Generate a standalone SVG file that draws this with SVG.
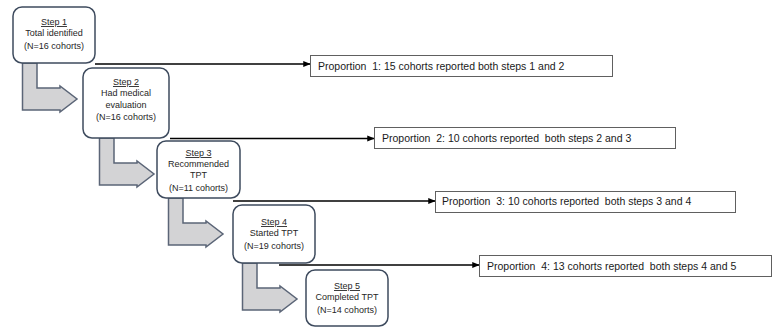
<svg xmlns="http://www.w3.org/2000/svg" xmlns:xlink="http://www.w3.org/1999/xlink" width="773" height="329" viewBox="0 0 773 329">
<style>
.step{fill:#ffffff;stroke:#3e4b5e;stroke-width:1.5}
.bent{fill:#d3d3d5;stroke:#5b6577;stroke-width:1.5;stroke-linejoin:miter}
.st{font-family:"Liberation Sans",Arial,sans-serif;font-size:9px;fill:#262626;text-anchor:middle}
.u{text-decoration:underline}
.prop{fill:#ffffff;stroke:#606060;stroke-width:1}
.pt{font-family:"Liberation Sans",Arial,sans-serif;font-size:10.5px;fill:#1a1a1a;white-space:pre}
.conn{stroke:#000;stroke-width:1.5;fill:none;marker-end:url(#ah)}
</style>
<defs>
<marker id="ah" viewBox="0 0 10 10" refX="9" refY="5" markerWidth="5" markerHeight="5" orient="auto" markerUnits="strokeWidth">
<path d="M0,1 L10,5 L0,9 Z" fill="#000"/>
</marker>
<path id="bentArrow" class="bent" d="M9.5,0 H24 V25 H47 V23 L64,36 L47,49 V47 H9.5 Z"/>
</defs>
<rect width="773" height="329" fill="#ffffff"/>

<g id="arrows">
<use xlink:href="#bentArrow" transform="translate(13,63)"/>
<use xlink:href="#bentArrow" transform="translate(90,138)"/>
<use xlink:href="#bentArrow" transform="translate(159,198)"/>
<use xlink:href="#bentArrow" transform="translate(233,263)"/>
</g>

<g id="step1">
<rect class="step" x="13" y="7" width="82" height="56" rx="9"/>
<text class="st u" x="54" y="25">Step 1</text>
<text class="st" x="54" y="36">Total identified</text>
<text class="st" x="54" y="49">(N=16 cohorts)</text>
</g>
<g id="step2">
<rect class="step" x="83" y="68" width="86" height="70" rx="9"/>
<text class="st u" x="126" y="85">Step 2</text>
<text class="st" x="126" y="96">Had medical</text>
<text class="st" x="126" y="108">evaluation</text>
<text class="st" x="126" y="120">(N=16 cohorts)</text>
</g>
<g id="step3">
<rect class="step" x="157" y="141" width="83" height="57" rx="9"/>
<text class="st u" x="198.5" y="156">Step 3</text>
<text class="st" x="198.5" y="167">Recommended</text>
<text class="st" x="198.5" y="178">TPT</text>
<text class="st" x="198.5" y="191">(N=11 cohorts)</text>
</g>
<g id="step4">
<rect class="step" x="233" y="205" width="82" height="58" rx="9"/>
<text class="st u" x="274" y="225">Step 4</text>
<text class="st" x="274" y="236">Started TPT</text>
<text class="st" x="274" y="249">(N=19 cohorts)</text>
</g>
<g id="step5">
<rect class="step" x="306" y="270" width="82" height="56" rx="9"/>
<text class="st u" x="347" y="289">Step 5</text>
<text class="st" x="347" y="300">Completed TPT</text>
<text class="st" x="347" y="313">(N=14 cohorts)</text>
</g>

<g id="connectors">
<line class="conn" x1="95" y1="64" x2="310" y2="64"/>
<line class="conn" x1="170" y1="138.5" x2="374" y2="138.5"/>
<line class="conn" x1="233" y1="201" x2="435" y2="201"/>
<line class="conn" x1="279" y1="265" x2="479" y2="265"/>
</g>

<g id="prop1">
<rect class="prop" x="310.5" y="55.5" width="302" height="21"/>
<text class="pt" x="318" y="69.5">Proportion  1: 15 cohorts reported both steps 1 and 2</text>
</g>
<g id="prop2">
<rect class="prop" x="374.5" y="127.5" width="301" height="21"/>
<text class="pt" x="382" y="141.5">Proportion  2: 10 cohorts reported  both steps 2 and 3</text>
</g>
<g id="prop3">
<rect class="prop" x="435.5" y="191.5" width="300" height="21"/>
<text class="pt" x="442" y="205">Proportion  3: 10 cohorts reported  both steps 3 and 4</text>
</g>
<g id="prop4">
<rect class="prop" x="479.5" y="255.5" width="292" height="21"/>
<text class="pt" x="487" y="269.5">Proportion  4: 13 cohorts reported  both steps 4 and 5</text>
</g>
</svg>
